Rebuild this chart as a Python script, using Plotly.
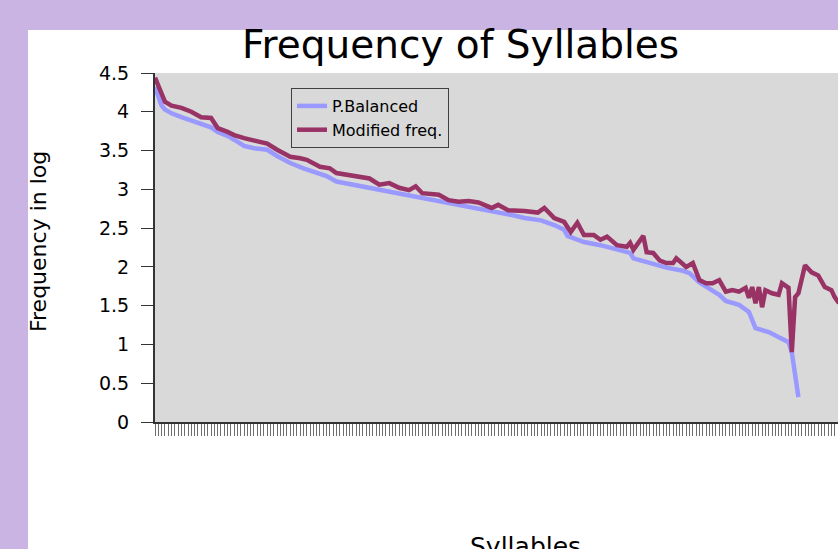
import plotly.graph_objects as go

# ---- data ----
blue_idx = [0, 1, 2, 3, 5, 8, 11, 14, 17, 19, 22, 24, 27, 30, 34, 37, 41, 45, 49, 52,
            55, 60, 65, 71, 77, 81, 86, 91, 97, 103, 108, 112, 117, 121, 124, 125, 130, 135, 140, 144,
            145, 150, 155, 160, 162, 165, 168, 171, 173, 177, 180, 182, 186, 189, 192, 193, 194, 195]
blue_val = [4.32, 4.20, 4.08, 4.03, 3.98, 3.93, 3.89, 3.84, 3.80, 3.74, 3.69, 3.64, 3.56, 3.53, 3.51, 3.43, 3.34, 3.27, 3.21, 3.17,
            3.10, 3.06, 3.02, 2.97, 2.93, 2.90, 2.86, 2.81, 2.76, 2.71, 2.67, 2.63, 2.60, 2.54, 2.48, 2.40, 2.32, 2.28, 2.22, 2.18,
            2.11, 2.05, 1.99, 1.95, 1.92, 1.80, 1.72, 1.64, 1.56, 1.51, 1.42, 1.21, 1.16, 1.10, 1.03, 0.90, 0.63, 0.32]

red_idx = [0, 2, 3, 5, 8, 11, 14, 17, 19, 22, 24, 27, 29, 31, 34, 37, 41, 44, 46, 50,
           53, 55, 60, 65, 68, 71, 74, 77, 79, 81, 86, 89, 92, 95, 98, 100, 102, 104, 107, 112,
           116, 118, 121, 124, 126, 128, 130, 133, 135, 137, 140, 143, 144, 145, 148, 149, 151, 153, 155, 157,
           158, 161, 163, 165, 167, 169, 171, 173, 175, 177, 179, 180, 181, 182, 183, 184, 185, 187, 189, 190,
           192, 193, 194, 195, 197, 199, 201, 203, 205, 206, 207, 209]
red_val = [4.44, 4.25, 4.13, 4.08, 4.05, 4.00, 3.93, 3.92, 3.79, 3.74, 3.70, 3.66, 3.64, 3.62, 3.59, 3.51, 3.42, 3.40, 3.38, 3.29,
           3.27, 3.21, 3.17, 3.14, 3.06, 3.08, 3.02, 2.99, 3.04, 2.95, 2.93, 2.86, 2.84, 2.85, 2.83, 2.80, 2.76, 2.80, 2.73, 2.72,
           2.70, 2.76, 2.63, 2.58, 2.45, 2.57, 2.41, 2.41, 2.35, 2.39, 2.28, 2.26, 2.31, 2.22, 2.40, 2.19, 2.18, 2.08, 2.05, 2.05,
           2.11, 2.00, 2.05, 1.83, 1.79, 1.79, 1.83, 1.68, 1.70, 1.68, 1.73, 1.60, 1.74, 1.53, 1.74, 1.48, 1.70, 1.66, 1.64, 1.79,
           1.73, 0.90, 1.61, 1.66, 2.02, 1.93, 1.89, 1.74, 1.70, 1.61, 1.55, 1.50]

series_names = ["P.Balanced", "Modified freq."]
ytick_vals = [0, 0.5, 1, 1.5, 2, 2.5, 3, 3.5, 4, 4.5]
ytick_text = ["0", "0.5", "1", "1.5", "2", "2.5", "3", "3.5", "4", "4.5"]

FONT = "DejaVu Sans"

fig = go.Figure()
fig.add_trace(go.Scatter(x=blue_idx, y=blue_val, mode="lines", name=series_names[0],
                         line=dict(color="#9999FF", width=4.5)))
fig.add_trace(go.Scatter(x=red_idx, y=red_val, mode="lines", name=series_names[1],
                         line=dict(color="#993366", width=4.5)))

W, H = 838, 549
L, R, T, B = 155, 838, 73, 422
pw, ph = R - L, B - T

def px(x):
    return (x - L) / pw

def py(y):
    return (B - y) / ph

fig.update_layout(
    width=W, height=H,
    margin=dict(l=L, r=W - R, t=T, b=H - B, pad=0),
    paper_bgcolor="white",
    plot_bgcolor="#D9D9D9",
    font=dict(family=FONT, color="black"),
    showlegend=True,
    legend=dict(x=px(291), y=py(88), xanchor="left", yanchor="top",
                bgcolor="#D9D9D9", bordercolor="#404040", borderwidth=1,
                font=dict(size=16, family=FONT, color="black"),
                itemwidth=30, tracegroupgap=0),
    xaxis=dict(range=[0, 207], showgrid=False, zeroline=False,
               showline=True, linecolor="#333333", linewidth=2,
               tickmode="linear", tick0=0, dtick=1, ticks="outside", ticklen=12,
               tickcolor="#6e6e6e", tickwidth=1, showticklabels=False),
    yaxis=dict(range=[0, 4.5], showgrid=False, zeroline=False,
               showline=True, linecolor="#333333", linewidth=2,
               tickmode="array", tickvals=ytick_vals, ticktext=ytick_text,
               ticks="outside", ticklen=12, tickcolor="#333333", tickwidth=1,
               ticklabelstandoff=8,
               tickfont=dict(size=19, family=FONT, color="black")),
    shapes=[
        dict(type="rect", xref="paper", yref="paper", layer="above",
             x0=px(0), x1=px(28), y0=py(H), y1=py(0),
             fillcolor="#CAB4E4", line=dict(width=0)),
        dict(type="rect", xref="paper", yref="paper", layer="above",
             x0=px(0), x1=px(W), y0=py(30), y1=py(0),
             fillcolor="#CAB4E4", line=dict(width=0)),
    ],
    annotations=[
        dict(text="Frequency of Syllables", xref="paper", yref="paper",
             x=px(460), y=py(69), xanchor="center", yanchor="bottom",
             showarrow=False, font=dict(size=39, family=FONT, color="black")),
        dict(text="Frequency in log", xref="paper", yref="paper",
             x=px(38), y=py(242), xanchor="center", yanchor="middle",
             textangle=-90, showarrow=False,
             font=dict(size=22, family=FONT, color="black")),
        dict(text="Syllables", xref="paper", yref="paper",
             x=px(525), y=py(530), xanchor="center", yanchor="top",
             showarrow=False, font=dict(size=25, family=FONT, color="black")),
    ],
)

fig.write_html(
    "out.html",
    config={"displayModeBar": False},
    post_script="document.body.style.margin='0';document.body.style.padding='0';document.body.style.overflow='hidden';",
)
